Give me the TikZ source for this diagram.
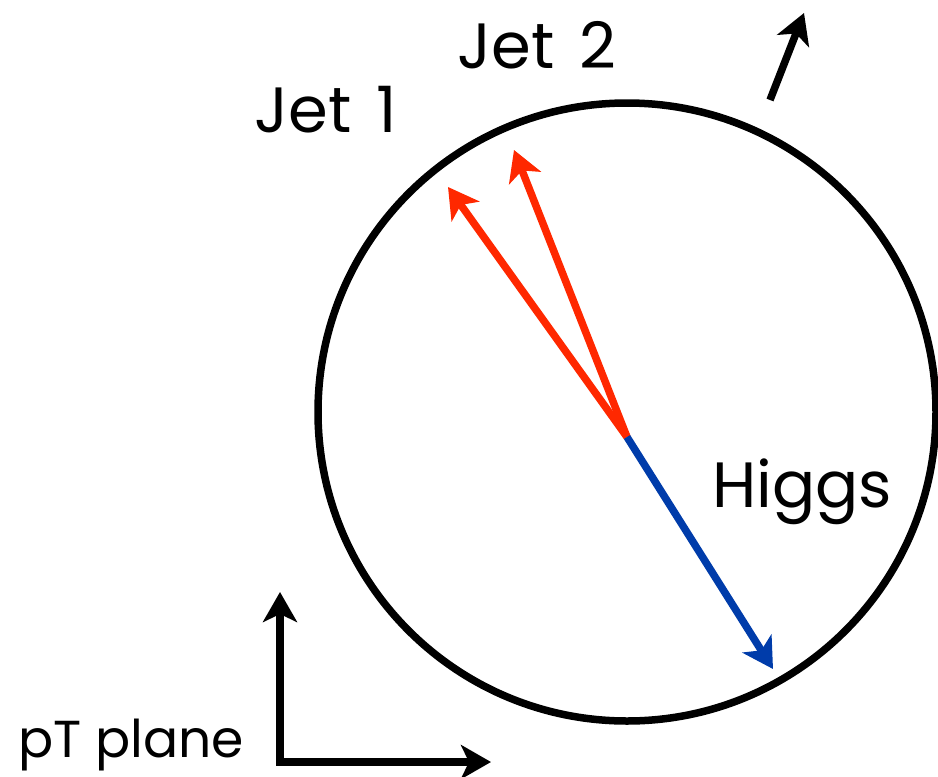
\documentclass[tikz,border=0pt]{standalone}
\usepackage{fontspec}
\setmainfont{Poppins}
\usetikzlibrary{arrows.meta}
\begin{document}
\begin{tikzpicture}[x=1pt,y=-1pt,
  vec/.style={line width=7.5pt,-{Stealth[length=30pt,width=34pt,inset=8pt]}},
  lbl/.style={font=\fontsize{64}{70}\selectfont,inner sep=0pt}]
\useasboundingbox (0,0) rectangle (938,777);
\draw[line width=7.5pt] (627,412) circle[radius=309];
\coordinate (o) at (627,437);
\coordinate (j1) at (448,187);
\coordinate (j2) at (514,150);
\coordinate (h) at (773,669);
\draw[vec,color={rgb,255:red,255;green,40;blue,0}] (o) -- (j1);
\draw[vec,color={rgb,255:red,255;green,40;blue,0}] (o) -- (j2);
\draw[vec,color={rgb,255:red,0;green,60;blue,170}] (o) -- (h);
\coordinate (mt) at (770,100);
\coordinate (mh) at (804,13);
\draw[vec] (mt) -- (mh);
\coordinate (ax) at (280,762);
\coordinate (ay) at (280,592);
\coordinate (axr) at (491,762);
\draw[vec] (ax) -- (ay);
\draw[vec] ([xshift=-3.75pt]ax) -- (axr);
\node[lbl] (jet1) at (326,110) {Jet\hspace{0.12em} 1};
\node[lbl] (jet2) at (537,45) {Jet\hspace{0.12em} 2};
\node[lbl] (higgs) at (802,492) {Higgs};
\node[lbl,font=\fontsize{52}{58}\selectfont,anchor=west] (pt) at (18,745) {pT plane};
\end{tikzpicture}
\end{document}
